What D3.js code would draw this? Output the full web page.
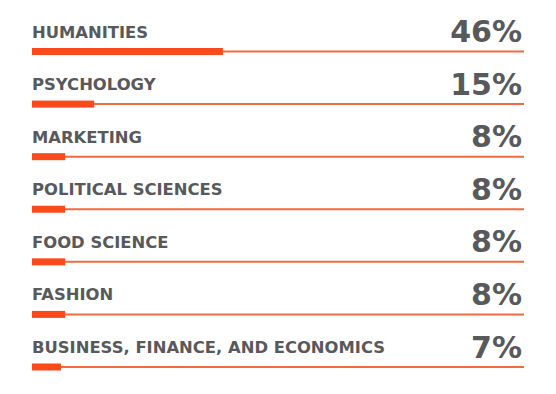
<!DOCTYPE html>
<html>
<head>
<meta charset="utf-8">
<script src="https://cdn.jsdelivr.net/npm/d3@7"></script>
<style>
  body { margin: 0; background: #fff; }
  text { font-family: "DejaVu Sans", sans-serif; font-weight: bold; }
</style>
</head>
<body>
<script>
const w = 556;
const h = 394;

const majors = ["HUMANITIES", "PSYCHOLOGY", "MARKETING", "POLITICAL SCIENCES",
                "FOOD SCIENCE", "FASHION", "BUSINESS, FINANCE, AND ECONOMICS"];
const shares = [46, 15, 8, 8, 8, 8, 7];

const svg = d3.select("body")
    .append("svg")
    .attr("width", w)
    .attr("height", h);

const xScale = d3.scaleLinear()
    .domain([0, 100])
    .range([32, 447]);

const yScale = d3.scalePoint()
    .domain(majors)
    .range([51.5, 367]);

const rows = svg.selectAll("g.row")
    .data(majors)
    .enter()
    .append("g")
    .attr("class", "row")
    .attr("transform", function(d) { return "translate(0," + yScale(d) + ")"; });

// thin track line
rows.append("line")
    .attr("x1", xScale(0))
    .attr("x2", 524)
    .attr("stroke", "#f26a3e")
    .attr("stroke-width", 2);

// the thick bar
rows.append("rect")
    .attr("x", xScale(0))
    .attr("y", -3.5)
    .attr("height", 7)
    .attr("width", function(d, i) { return xScale(shares[i]) - xScale(0); })
    .attr("fill", "#fa4a1c");

rows.append("text")
    .attr("x", xScale(0))
    .attr("y", -14)
    .attr("font-size", 16.4)
    .attr("fill", "#58595b")
    .text(function(d) { return d; });

rows.append("text")
    .attr("x", 522)
    .attr("y", -9.5)
    .attr("text-anchor", "end")
    .attr("font-size", 30)
    .attr("fill", "#58595b")
    .text(function(d, i) { return shares[i] + "%"; });
</script>
</body>
</html>
